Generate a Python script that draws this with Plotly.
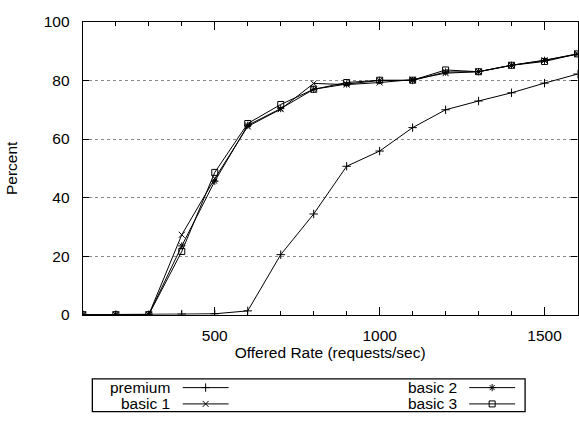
import plotly.graph_objects as go

# Offered load (requests/sec) and the share of requests served (percent)
rate = [100, 200, 300, 400, 500, 600, 700, 800, 900, 1000, 1100, 1200, 1300, 1400, 1500, 1600]
premium = [0, 0, 0, 0.2, 0.3, 1.3, 20.5, 34.4, 50.7, 55.9, 63.9, 70.0, 73.0, 75.8, 79.1, 82.2]
basic1 = [0, 0, 0, 27.3, 46.5, 64.3, 70.2, 79.0, 78.6, 79.3, 80.3, 82.5, 83.0, 85.2, 86.9, 89.1]
basic2 = [0, 0, 0, 23.5, 45.6, 64.7, 70.4, 77.0, 78.8, 80.0, 80.0, 82.9, 83.0, 85.2, 86.9, 89.0]
basic3 = [0, 0, 0, 21.6, 48.6, 65.3, 71.8, 77.0, 79.3, 80.1, 80.1, 83.6, 83.0, 85.2, 86.5, 89.1]

names = ["premium", "basic 1", "basic 2", "basic 3"]
symbols = ["cross-thin", "x-thin", "asterisk", "square-open"]
series = [premium, basic1, basic2, basic3]

W, H = 579, 422
FONT = "Liberation Sans, Arial, Helvetica, sans-serif"
FS = 15.5
MS = 6

fig = go.Figure()
for name, sym, vals in zip(names, symbols, series):
    fig.add_trace(go.Scatter(
        x=rate, y=vals, name=name, mode="lines+markers",
        line=dict(color="black", width=1),
        marker=dict(symbol=sym, size=MS, color="black",
                    line=dict(color="black", width=1)),
        showlegend=False,
    ))

# Boxed key below the axes, two columns, label to the left of its sample
key_rows = [(0, 394.5), (0, 411.5), (1, 394.5), (1, 411.5)]
key_cols = [dict(text_right=172, l0=183, l1=229), dict(text_right=460, l0=470, l1=516)]
for (col, ky), name, sym in zip(key_rows, names, symbols):
    c = key_cols[col]
    mid = (c["l0"] + c["l1"]) / 2
    fig.add_trace(go.Scatter(
        x=[c["l0"], c["l1"]], y=[ky, ky], mode="lines",
        line=dict(color="black", width=1), xaxis="x2", yaxis="y2",
        showlegend=False, hoverinfo="skip"))
    fig.add_trace(go.Scatter(
        x=[mid], y=[ky], mode="markers", xaxis="x2", yaxis="y2",
        marker=dict(symbol=sym, size=MS, color="black",
                    line=dict(color="black", width=1)),
        showlegend=False, hoverinfo="skip"))
    fig.add_annotation(x=c["text_right"], y=ky, xref="x2", yref="y2",
                       text=name, showarrow=False, xanchor="right",
                       yanchor="middle", font=dict(size=FS, color="black", family=FONT))

fig.add_shape(type="rect", xref="x2", yref="y2", x0=92.5, x1=526, y0=385.5, y1=419.5,
              line=dict(color="black", width=1.3), fillcolor="rgba(0,0,0,0)")

fig.update_layout(
    width=W, height=H,
    margin=dict(l=0, r=0, t=0, b=0),
    paper_bgcolor="white", plot_bgcolor="rgba(0,0,0,0)",
    font=dict(family=FONT, size=FS, color="black"),
    xaxis=dict(
        domain=[83 / W, 578.5 / W], range=[100, 1600],
        tickvals=[500, 1000, 1500], ticks="inside", ticklen=8, tickwidth=1,
        tickcolor="black", mirror="allticks", showline=True, linecolor="black",
        linewidth=1.3, showgrid=False, zeroline=False, ticklabelstandoff=7,
        minor=dict(tickvals=rate, ticks="inside", ticklen=4, tickcolor="black",
                   showgrid=False),
        title=dict(text="Offered Rate (requests/sec)", standoff=0,
                   font=dict(size=FS)),
        anchor="y",
    ),
    yaxis=dict(
        domain=[(H - 318.5) / H, (H - 13.5) / H], range=[0, 100],
        tickvals=[0, 20, 40, 60, 80, 100], ticks="inside", ticklen=6,
        tickwidth=1, tickcolor="black", mirror="allticks", showline=True,
        linecolor="black", linewidth=1.3, showgrid=True, gridcolor="#888888",
        griddash="dot", gridwidth=1, zeroline=False, ticklabelstandoff=9,
        title=dict(text="Percent", standoff=22, font=dict(size=FS)),
        anchor="x",
    ),
    xaxis2=dict(domain=[0, 1], range=[0, W], visible=False, anchor="y2",
                fixedrange=True),
    yaxis2=dict(domain=[0, 1], range=[H, 0], visible=False, anchor="x2",
                fixedrange=True),
)

fig.write_html("out.html")
